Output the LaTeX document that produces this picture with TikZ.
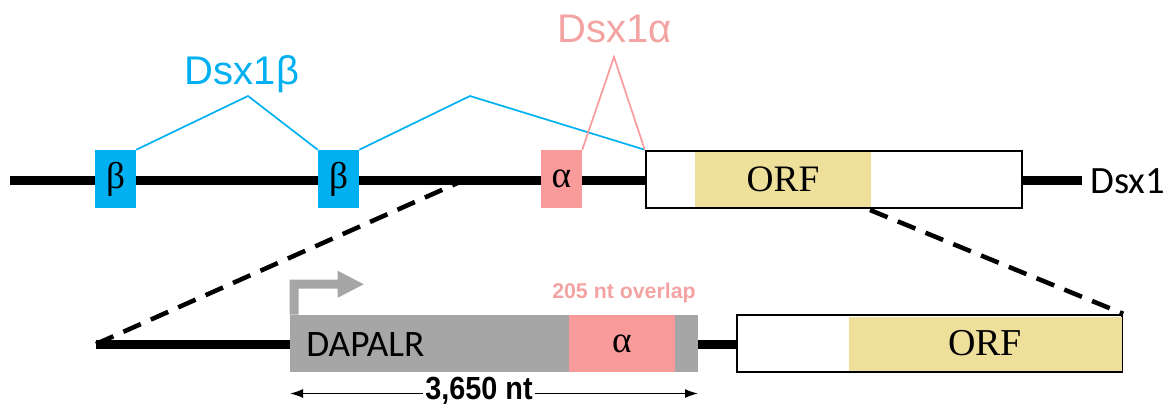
\documentclass[tikz,border=0pt]{standalone}
\usepackage{fontspec}
\setmainfont{Liberation Serif}
\newfontfamily\arialf{Liberation Sans}
\newfontfamily\calibf{Carlito}
\usetikzlibrary{arrows.meta}
\newdimen\px \px=0.75pt
\definecolor{exblue}{HTML}{00B0F0}
\definecolor{expink}{HTML}{F99B9B}
\definecolor{labpink}{HTML}{F4A3A3}
\definecolor{prgray}{HTML}{A6A6A6}
\definecolor{orfyel}{HTML}{EEDF9B}
\tikzset{
  gene/.style={line width=9\px},
  exon/.style={draw=none, inner sep=0pt, minimum height=58\px, font=\fontsize{28}{28}\selectfont},
  bexon/.style={exon, fill=exblue, minimum width=41\px},
  aexon/.style={exon, fill=expink, minimum width=41\px},
  orfbox/.style={draw=black, line width=2.5\px, fill=white, inner sep=0pt, minimum height=57\px},
  orffill/.style={fill=orfyel, inner sep=0pt, minimum height=55\px, font=\fontsize{28}{28}\selectfont},
  splice/.style={line width=1.7\px},
  zoomline/.style={line width=3.4pt, dash pattern=on 14.25pt off 8.25pt},
  dimarrow/.style={line width=1.1pt, {Latex[length=9.75pt,width=6.75pt]}-{Latex[length=9.75pt,width=6.75pt]}},
}
\begin{document}
\begin{tikzpicture}[x=0.75pt,y=-0.75pt]
\useasboundingbox (0,0) rectangle (1174,408);

% ---- genomic locus ----
\coordinate (gstart) at (10,180.5);
\node[orfbox, minimum width=376\px] (orf) at (834,179.5) {};
\node[orffill, minimum width=176\px] (orfin) at (783,179.5) {ORF};
\coordinate (gend) at (1082,180.5);
\draw[gene] (gstart) -- (orf.west |- gstart);
\draw[gene] (orf.east |- gend) -- (gend);
\node[anchor=west, inner sep=0pt, font=\calibf\fontsize{29}{29}\selectfont] (dsx) at (1090,181) {Dsx1};

\node[bexon] (b1) at (115.5,179) {β};
\node[bexon] (b2) at (338.5,179) {β};
\node[aexon] (a1) at (561.5,179) {α};

% ---- splicing patterns ----
\coordinate (p1) at (248,96);
\coordinate (p2) at (470,96);
\coordinate (p3) at (614,57);
\draw[splice, exblue] (b1.north east) -- (p1) -- (b2.north west);
\draw[splice, exblue] (b2.north east) -- (p2) -- (orf.north west);
\draw[splice, expink] (a1.north east) -- (p3) -- (orf.north west);
\node[exblue, font=\arialf\fontsize{30}{30}\selectfont] (lb) at (242,74) {Dsx1β};
\node[labpink, font=\arialf\fontsize{30}{30}\selectfont] (la) at (615,29) {Dsx1α};

% ---- enlarged view ----
\node[fill=prgray, inner sep=0pt, minimum width=408\px, minimum height=57\px] (gb) at (494,343.5) {};
\node[fill=expink, inner sep=0pt, minimum width=106\px, minimum height=57\px, font=\fontsize{28}{28}\selectfont] (a2) at (622,343.5) {α};
\node[anchor=west, inner sep=0pt, font=\calibf\fontsize{28}{28}\selectfont] (dap) at (306,345) {DAPALR};
\node[orfbox, minimum width=385\px] (orf2) at (929.5,343.5) {};
\node[orffill, minimum width=273\px, minimum height=54\px, font=\fontsize{28.5}{28.5}\selectfont] (orf2in) at (985,343.5) {ORF};

\coordinate (lstart) at (96,344);
\draw[gene] (lstart) -- (gb.west |- lstart);
\draw[gene] (gb.east |- lstart) -- (orf2.west |- lstart);

% transcription start arrow
\fill[prgray] (gb.north west) -- ++(0,-35) -- ++(48,0) -- ++(0,-9) -- ++(26,13.5)
  -- ++(-26,13.5) -- ++(0,-9) -- ++(-39,0) -- ++(0,26) -- cycle;
\node[labpink, font=\arialf\bfseries\fontsize{16}{16}\selectfont] (ov) at (624,293) {205 nt overlap};

% length bar
\coordinate (m1) at (290,393.5);
\coordinate (m2) at (698,393.5);
\draw[dimarrow] (m1) -- (m2);
\node[fill=white, inner sep=2pt, font=\arialf\bfseries\fontsize{24}{24}\selectfont] (len) at (479,391) {\scalebox{0.9}[1]{3,650 nt}};

% zoom guides
\coordinate (zl) at (462,181);
\coordinate (zr) at (870,210);
\draw[zoomline] (lstart) -- (zl);
\draw[zoomline] (zr) -- (orf2.north east);
\end{tikzpicture}
\end{document}
